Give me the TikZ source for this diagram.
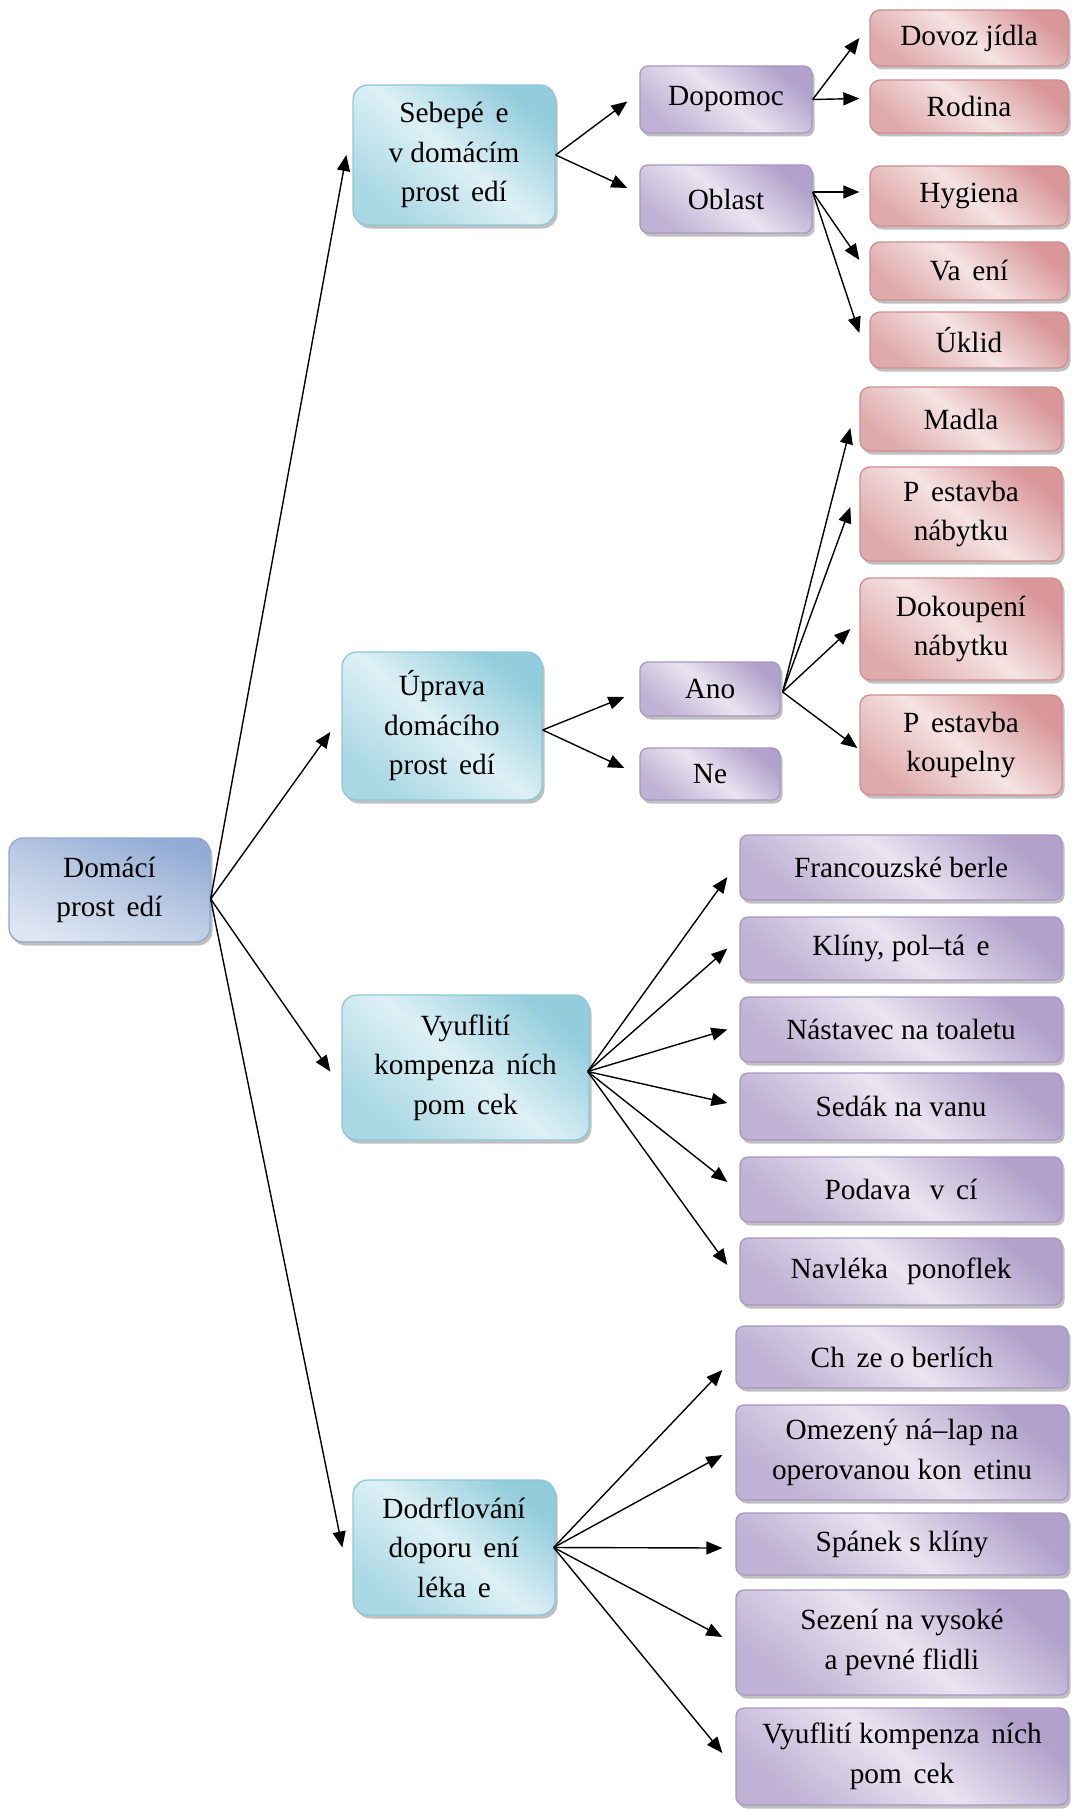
\documentclass[tikz,border=0pt]{standalone}
\usepackage{fontspec}
\setmainfont{Liberation Serif}
\usetikzlibrary{arrows.meta,shadows}

% fill and outline colours of the four box families
\definecolor{bluLt}{HTML}{DDE5F1}
\definecolor{bluDk}{HTML}{93ACD5}
\definecolor{bluLn}{HTML}{8EA8D0}
\definecolor{tealLt}{HTML}{DDF0F5}
\definecolor{tealDk}{HTML}{93CDDC}
\definecolor{tealLn}{HTML}{8DC8D8}
\definecolor{purLt}{HTML}{E9E4F0}
\definecolor{purDk}{HTML}{B1A1CB}
\definecolor{purLn}{HTML}{A897C3}
\definecolor{redLt}{HTML}{F5E3E3}
\definecolor{redDk}{HTML}{D9979A}
\definecolor{redLn}{HTML}{D08D8F}

% gap left by a glyph the font could not show
\newcommand\mg{\hspace{.4em}}

\tikzset{
  wh/.style 2 args={minimum width=#1pt, minimum height=#2pt},
  base/.style={draw, line width=1.3pt, align=center, inner sep=0pt, text=black,
    font=\fontsize{29.3}{39.5}\selectfont,
    drop shadow={shadow xshift=2.5pt, shadow yshift=-3.5pt, fill=black!45, opacity=.55}},
  rootbox/.style={base, rounded corners=14pt, draw=bluLn,
    top color=bluDk, bottom color=bluLt, middle color=bluLt!55!bluDk, shading angle=-20},
  tealbox/.style={base, rounded corners=15pt, draw=tealLn,
    top color=tealDk, bottom color=tealDk!70!tealLt, middle color=tealLt, shading angle=-40},
  purbox/.style={base, rounded corners=8pt, draw=purLn,
    top color=purDk, bottom color=purDk!75!purLt, middle color=purLt, shading angle=-40},
  redbox/.style={base, rounded corners=10pt, draw=redLn,
    top color=redDk, bottom color=redDk!75!redLt, middle color=redLt, shading angle=-40},
  arr/.style={draw=black, line width=1.4pt, -{Triangle[length=16pt,width=13pt]}},
}

\begin{document}
\begin{tikzpicture}[x=1pt,y=-1pt]
\useasboundingbox (0,0) rectangle (1072,1809);

% root and first level
\node[rootbox, wh={201}{104}] (root) at (109.5,890) {Domácí\\prost\mg edí};
\node[tealbox, wh={202}{140}] (seb) at (454,155) {Sebepé\mg e\\v domácím\\prost\mg edí};
\node[tealbox, wh={200}{148}] (upr) at (442,726) {Úprava\\domácího\\prost\mg edí};
\node[tealbox, wh={247}{145}] (vyu) at (465.5,1067.5) {Vyuflití\\kompenza\mg ních\\pom\mg cek};
\node[tealbox, wh={202}{135}] (dod) at (454,1547.5) {Dodrflování\\doporu\mg ení\\léka\mg e};

% second level
\node[purbox, wh={172}{67}] (dop) at (726,99.5) {Dopomoc};
\node[purbox, wh={172}{68}] (obl) at (726,199) {Oblast};
\node[purbox, wh={140}{54}] (ano) at (710,689) {Ano};
\node[purbox, wh={140}{52}] (ne) at (710,774) {Ne};

% third level under Dopomoc / Oblast
\node[redbox, wh={198}{56}] (dov) at (969,38) {Dovoz jídla};
\node[redbox, wh={198}{53}] (rod) at (969,106.5) {Rodina};
\node[redbox, wh={198}{60}] (hyg) at (969,196) {Hygiena};
\node[redbox, wh={198}{58}] (var) at (969,271) {Va\mg ení};
\node[redbox, wh={198}{56}] (ukl) at (969,340) {Úklid};

% third level under Ano
\node[redbox, wh={202}{64}] (mad) at (961,419) {Madla};
\node[redbox, wh={202}{94}] (pna) at (961,514) {P\mg estavba\\nábytku};
\node[redbox, wh={202}{102}] (dok) at (961,629) {Dokoupení\\nábytku};
\node[redbox, wh={202}{100}] (pko) at (961,745) {P\mg estavba\\koupelny};

% aids
\node[purbox, wh={322}{65}] (fra) at (901,867.5) {Francouzské berle};
\node[purbox, wh={322}{63}] (kli) at (901,948.5) {Klíny, pol–tá\mg e};
\node[purbox, wh={322}{65}] (nas) at (901,1029.5) {Nástavec na toaletu};
\node[purbox, wh={322}{67}] (sed) at (901,1106.5) {Sedák na vanu};
\node[purbox, wh={322}{65}] (pod) at (901,1189.5) {Podava\mg\ v\mg cí};
\node[purbox, wh={322}{67}] (nav) at (901,1271.5) {Navléka\mg\ ponoflek};

% doctor's advice
\node[purbox, wh={332}{62}] (chu) at (902,1357) {Ch\mg ze o berlích};
\node[purbox, wh={332}{95}] (ome) at (902,1452.5) {Omezený ná–lap na\\operovanou kon\mg etinu};
\node[purbox, wh={332}{62}] (spa) at (902,1544) {Spánek s klíny};
\node[purbox, wh={332}{105}] (sez) at (902,1642.5) {Sezení na vysoké\\a pevné flidli};
\node[purbox, wh={332}{97}] (vy2) at (902,1756.5) {Vyuflití kompenza\mg ních\\pom\mg cek};

% connectors
\coordinate (r0) at ([yshift=-9pt]root.east);
\draw[arr] (r0) -- ([xshift=-6pt]seb.west);
\draw[arr] (r0) -- ([xshift=-11pt,yshift=-6pt]upr.west);
\draw[arr] (r0) -- ([xshift=-11pt,yshift=-4pt]vyu.west);
\draw[arr] (r0) -- ([xshift=-10pt]dod.west);

\draw[arr] (seb.east) -- ([xshift=-12pt,yshift=-2pt]dop.west);
\draw[arr] (seb.east) -- ([xshift=-12pt,yshift=11pt]obl.west);

\draw[arr] (dop.east) -- ([xshift=-10pt]dov.west);
\draw[arr] (dop.east) -- ([xshift=-10pt,yshift=8pt]rod.west);

\coordinate (o0) at ([yshift=7pt]obl.east);
\draw[arr] (o0) -- ([xshift=-10pt,yshift=4pt]hyg.west);
\draw[arr] (o0) -- ([xshift=-10pt,yshift=11pt]var.west);
\draw[arr] (o0) -- ([xshift=-10pt,yshift=7pt]ukl.west);

\coordinate (u0) at ([yshift=-4pt]upr.east);
\draw[arr] (u0) -- ([xshift=-15pt,yshift=-8pt]ano.west);
\draw[arr] (u0) -- ([xshift=-15pt,yshift=6pt]ne.west);

\coordinate (a0) at ([xshift=2pt,yshift=-3pt]ano.east);
\draw[arr] (a0) -- ([xshift=-9pt,yshift=-9pt]mad.west);
\draw[arr] (a0) -- ([xshift=-9pt,yshift=7pt]pna.west);
\draw[arr] (a0) -- ([xshift=-9pt]dok.west);
\draw[arr] (a0) -- ([xshift=-2pt,yshift=-3pt]pko.west);

\coordinate (v0) at ([xshift=-2pt,yshift=-4pt]vyu.east);
\draw[arr] (v0) -- ([xshift=-12pt,yshift=-9.5pt]fra.west);
\draw[arr] (v0) -- ([xshift=-12pt]kli.west);
\draw[arr] (v0) -- ([xshift=-12pt]nas.west);
\draw[arr] (v0) -- ([xshift=-12pt,yshift=3.5pt]sed.west);
\draw[arr] (v0) -- ([xshift=-12pt,yshift=7.5pt]pod.west);
\draw[arr] (v0) -- ([xshift=-12pt,yshift=6.5pt]nav.west);

\coordinate (d0) at ([xshift=-2pt]dod.east);
\draw[arr] (d0) -- ([xshift=-13pt,yshift=-13pt]chu.west);
\draw[arr] (d0) -- ([xshift=-13pt,yshift=-2.5pt]ome.west);
\draw[arr] (d0) -- ([xshift=-13pt,yshift=-4pt]spa.west);
\draw[arr] (d0) -- ([xshift=-13pt,yshift=5.5pt]sez.west);
\draw[arr] (d0) -- ([xshift=-13pt,yshift=3.5pt]vy2.west);
\end{tikzpicture}
\end{document}
